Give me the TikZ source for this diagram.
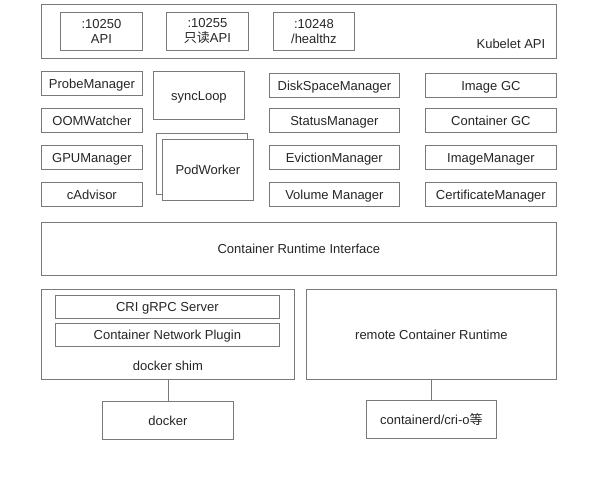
\documentclass[tikz,border=0pt]{standalone}
\usepackage{fontspec}
\setmainfont{Liberation Sans}
\newfontfamily\cjk{Noto Sans CJK SC}
\usepackage{tikz}
\usepackage{xcolor}
\definecolor{linegray}{HTML}{7A7A7A}
\definecolor{textgray}{HTML}{262626}
\tikzset{
    frame/.style={draw=linegray, line width=0.8pt, text=textgray, fill=white,
        anchor=north west, inner sep=0pt,
        font=\fontsize{13}{15}\selectfont},
    box/.style={frame, text height=9.5pt, text depth=0pt},
    link/.style={draw=linegray, line width=0.8pt}
}

\begin{document}
\begin{tikzpicture}[x=1pt, y=-1pt]
    \useasboundingbox (0,0) rectangle (597,485);
    % Kubelet API
    \node[frame, minimum width=515pt, minimum height=54pt] (kubelet) at (41,4) {};
    \node[text=textgray, font=\fontsize{13}{15}\selectfont, anchor=east]
        (kubeletlbl) at ([xshift=-8pt, yshift=15pt]kubelet.south east) {Kubelet API};
    \node[frame, align=center, minimum width=82pt, minimum height=38pt] (api) at (60,12) {:10250\\API};
    \node[frame, align=center, minimum width=82pt, minimum height=38pt] (roapi) at (166,12) {:10255\\{\cjk 只读}API};
    \node[frame, align=center, minimum width=81pt, minimum height=38pt] (health) at (273,12) {:10248\\/healthz};
    % managers
    \foreach \name/\y/\txt in {probe/71/ProbeManager, oom/108/OOMWatcher,
            gpu/145/GPUManager, cadv/182/cAdvisor}
        \node[box, minimum width=101pt, minimum height=24pt] (\name) at (41,\y) {\txt};
    \node[box, minimum width=91pt, minimum height=48pt] (syncloop) at (153,71) {syncLoop};
    \node[frame, minimum width=91pt, minimum height=61pt] (podback) at (156,133) {};
    \node[box, minimum width=91pt, minimum height=61pt] (podworker) at (162,139) {PodWorker};
    \foreach \name/\y/\txt in {disk/73/DiskSpaceManager, status/108/StatusManager,
            evict/145/EvictionManager, volume/182/Volume Manager}
        \node[box, minimum width=130pt, minimum height=24pt] (\name) at (269,\y) {\txt};
    \foreach \name/\y/\txt in {imagegc/73/Image GC, containergc/108/Container GC,
            imagemgr/145/ImageManager, cert/182/CertificateManager}
        \node[box, minimum width=131pt, minimum height=24pt] (\name) at (425,\y) {\txt};
    % runtime
    \node[box, minimum width=515pt, minimum height=53pt] (cri) at (41,222) {Container Runtime Interface};
    \node[frame, minimum width=253pt, minimum height=90pt] (shim) at (41,289) {};
    \node[text=textgray, font=\fontsize{13}{15}\selectfont]
        (shimlbl) at ([yshift=14pt]shim.south) {docker shim};
    \node[box, minimum width=224pt, minimum height=23pt] (grpc) at (55,295) {CRI gRPC Server};
    \node[box, minimum width=224pt, minimum height=23pt] (cni) at (55,323) {Container Network Plugin};
    \node[box, minimum width=250pt, minimum height=90pt] (remote) at (306,289) {remote Container Runtime};
    \node[box, minimum width=131pt, minimum height=38pt] (docker) at (102,401) {docker};
    \node[box, minimum width=130pt, minimum height=38pt] (containerd) at (366,400) {containerd/cri-o{\cjk 等}};
    \draw[link] (shim.south) -- (docker.north);
    \draw[link] (remote.south) -- (containerd.north);
\end{tikzpicture}
\end{document}
